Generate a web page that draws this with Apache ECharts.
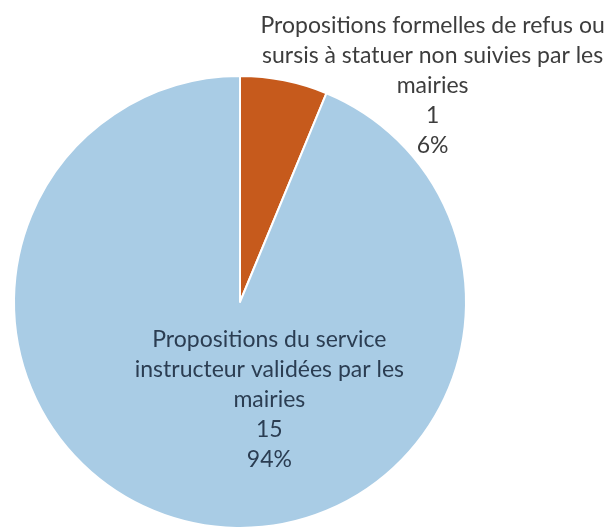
<!DOCTYPE html>
<html>
<head>
<meta charset="utf-8">
<script src="https://cdn.jsdelivr.net/npm/echarts@6/dist/echarts.min.js"></script>
<style>
html,body{margin:0;padding:0;background:#fff;}
#chart{width:613px;height:531px;}
</style>
</head>
<body>
<div id="chart"></div>
<script>
// Data
const categories = [
  "Propositions formelles de refus ou\nsursis à statuer non suivies par les\nmairies",
  "Propositions du service\ninstructeur validées par les\nmairies"
];
const values = [1, 15];
const colors = ["#c65a1c", "#a9cce5"];
const labelColors = ["#3d3d3d", "#2b3d52"];
const labelOffsets = [[170, -103], [52, -16]];

const chart = echarts.init(document.getElementById('chart'), null, {renderer: 'canvas'});

const data = categories.map((name, i) => ({
  name: name,
  value: values[i],
  itemStyle: {color: colors[i]},
  label: {color: labelColors[i], offset: labelOffsets[i]}
}));

chart.setOption({
  animation: false,
  backgroundColor: '#ffffff',
  series: [{
    type: 'pie',
    center: [240, 302],
    radius: [0, 226],
    startAngle: 90,
    clockwise: true,
    avoidLabelOverlap: false,
    itemStyle: {borderColor: '#ffffff', borderWidth: 2},
    label: {
      show: true,
      position: 'inside',
      fontFamily: 'Lato',
      fontSize: 23,
      lineHeight: 30,
      align: 'center',
      formatter: p => p.name + '\n' + p.value + '\n' + Math.round(p.percent) + '%'
    },
    labelLine: {show: false},
    emphasis: {disabled: true},
    data: data
  }]
});
</script>
</body>
</html>
